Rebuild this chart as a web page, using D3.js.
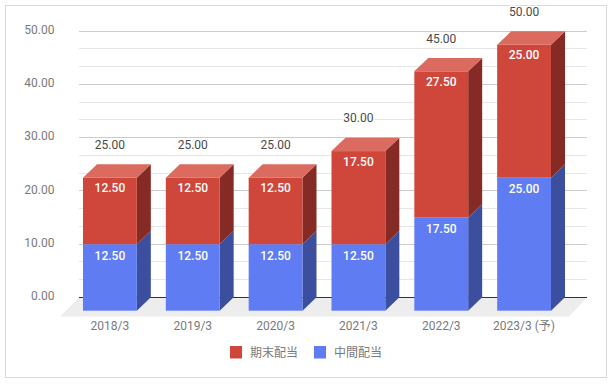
<!DOCTYPE html>
<html>
<head>
<meta charset="utf-8">
<script src="https://cdn.jsdelivr.net/npm/d3@7"></script>
<style>
html, body { margin: 0; padding: 0; background: #fff; }
svg { display: block; }
text { font-family: Roboto, "Noto Sans CJK JP", sans-serif; }
</style>
</head>
<body>
<div id="chart"></div>
<script>
const categories = ["2018/3", "2019/3", "2020/3", "2021/3", "2022/3", "2023/3 (予)"];
const interim = [12.5, 12.5, 12.5, 12.5, 17.5, 25];
const yearEnd = [12.5, 12.5, 12.5, 17.5, 27.5, 25];
const totals = [25, 25, 25, 30, 45, 50];
const yTicks = [0, 10, 20, 30, 40, 50];
const seriesNames = ["期末配当", "中間配当"];

const width = 614, height = 384;
const depthX = 14, depthY = 13.4;

const colors = {
    red: "#cf463b", redTop: "#db6a5f", redSide: "#862a25",
    blue: "#5f7cf3", blueSide: "#3c4f9f"
};

const svg = d3.select("#chart")
    .append("svg")
    .attr("width", width)
    .attr("height", height);

svg.append("rect")
    .attr("x", 5.5)
    .attr("y", 5.5)
    .attr("width", 601)
    .attr("height", 372)
    .style("fill", "#fff")
    .style("stroke", "#d9d9d9");

// front plane of the bars
const x = d3.scaleBand()
    .domain(categories)
    .range([68.5, 565.5])
    .paddingInner(0.35)
    .paddingOuter(0.175);
const y = d3.scaleLinear().domain([0, 50]).range([310.7, 44.7]);
// back plane, where the gridlines sit
const yBack = d3.scaleLinear().domain([0, 50]).range([297.4, 31]);

const crisp = v => Math.round(yBack(v) - 0.5) + 0.5;

// floor
svg.append("polygon")
    .attr("points", [[79, 297.5], [587, 297.5], [569, 316.5], [60, 316.5]].join(" "))
    .style("fill", "#ededed");

// minor gridlines, two between each major one
d3.range(0, 50, 10 / 3).filter((d, i) => i % 3 !== 0).forEach(v => {
    svg.append("line")
        .attr("x1", 79).attr("x2", 587)
        .attr("y1", crisp(v)).attr("y2", crisp(v))
        .style("stroke", "#e6e6e6");
});

yTicks.forEach(v => {
    svg.append("line")
        .attr("x1", 79).attr("x2", 587)
        .attr("y1", crisp(v)).attr("y2", crisp(v))
        .style("stroke", v === 0 ? "#333" : "#ccc");
});

// y axis labels
const yAxis = svg.append("g")
    .attr("transform", "translate(54.5,-1.5)")
    .call(d3.axisLeft(yBack).tickValues(yTicks).tickFormat(d3.format(".2f")).tickSize(0).tickPadding(0));
yAxis.select(".domain").remove();
yAxis.selectAll("text")
    .style("font-size", "12px")
    .style("fill", "#7a7a7a");

// x axis labels
const xAxis = svg.append("g")
    .attr("transform", "translate(0,321.5)")
    .call(d3.axisBottom(x).tickSize(0).tickPadding(0));
xAxis.select(".domain").remove();
xAxis.selectAll("text")
    .style("font-size", "12px")
    .style("fill", "#7a7a7a");

function drawBlock(cat, from, to, front, side, top) {
    const x0 = x(cat), x1 = x0 + x.bandwidth();
    const yb = y(from), yt = y(to);
    svg.append("polygon")
        .attr("points", [[x1, yb], [x1 + depthX, yb - depthY], [x1 + depthX, yt - depthY], [x1, yt]].join(" "))
        .style("fill", side);
    svg.append("rect")
        .attr("x", x0)
        .attr("y", yt)
        .attr("width", x.bandwidth())
        .attr("height", yb - yt)
        .style("fill", front);
    if (top) {
        svg.append("polygon")
            .attr("points", [[x0, yt], [x0 + depthX, yt - depthY], [x1 + depthX, yt - depthY], [x1, yt]].join(" "))
            .style("fill", top);
    }
}

function valueLabel(cat, v, yPos) {
    svg.append("text")
        .attr("x", x(cat) + x.bandwidth() / 2)
        .attr("y", yPos + 4.3)
        .attr("text-anchor", "middle")
        .attr("font-size", "12px")
        .attr("font-weight", 500)
        .style("fill", "#fff")
        .text(d3.format(".2f")(v));
}

categories.forEach((cat, i) => {
    const a = interim[i], b = yearEnd[i];
    drawBlock(cat, 0, a, colors.blue, colors.blueSide, null);
    drawBlock(cat, a, a + b, colors.red, colors.redSide, colors.redTop);
    valueLabel(cat, a, y(a) + 11);
    valueLabel(cat, b, y(a + b) + 10.3);

    svg.append("text")
        .attr("x", x(cat) + x.bandwidth() / 2)
        .attr("y", y(totals[i]) - 33 + 4.3)
        .attr("text-anchor", "middle")
        .attr("font-size", "12px")
        .style("fill", "#4a4a4a")
        .style("paint-order", "stroke")
        .style("stroke", "#fff")
        .style("stroke-width", 3)
        .text(d3.format(".2f")(totals[i]));
});

// legend
const legendX = [230, 314];
const legendColors = [colors.red, colors.blue];
seriesNames.forEach((name, i) => {
    svg.append("rect")
        .attr("x", legendX[i])
        .attr("y", 346)
        .attr("width", 12)
        .attr("height", 12.5)
        .style("fill", legendColors[i]);
    svg.append("text")
        .attr("x", legendX[i] + 20)
        .attr("y", 356.5)
        .attr("font-size", "12px")
        .style("fill", "#7a7a7a")
        .text(name);
});
</script>
</body>
</html>
